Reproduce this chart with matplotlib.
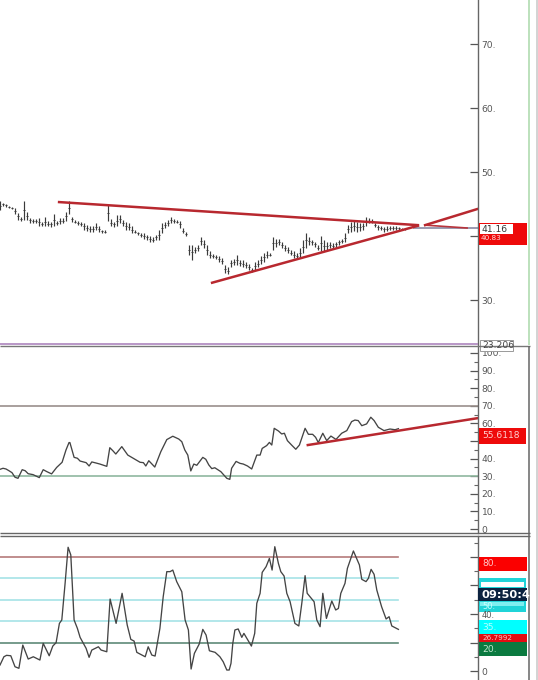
import matplotlib
matplotlib.use("Agg")
import matplotlib.pyplot as plt
from matplotlib.patches import Rectangle
from matplotlib.ticker import FixedLocator, FixedFormatter, MultipleLocator

W, H = 538, 680
bar_high = [45.4,45.2,45,44.7,44.5,44.3,43.6,42.9,45.5,43.8,42.8,42.6,42.6,42.8,42.2,42.9,42.4,42.2,43.5,42.4,
            42.8,42.8,43.8,45.4,43,42.5,42.4,42.2,42,41.7,41.5,41.5,42,41.5,41,40.9,44.8,42.6,42.2,43.3,
            43.3,42.5,42.2,42,41.5,40.9,40.7,40.4,40.4,40.2,40,39.9,40.2,40.9,42,42.2,42.5,43,42.6,42.5,
            42.4,41.2,40.7,38.6,38.6,38.3,38.6,39.9,39.4,38.6,37.6,37.2,37,36.8,36.5,35.5,35.1,36.3,36.4,37,
            36.3,36.3,36,35.7,35,36,36.3,36.9,37.3,37.7,37.3,39.9,39.6,39.6,39.1,38.6,38.3,37.8,37.6,37.3,
            38.1,39.4,40.5,39.9,39.4,39.1,38.6,40,39.4,39.1,39.1,38.9,39.1,39.4,39.6,40.4,41.7,42.2,42.4,42.2,
            42,42,42.9,42.8,42.6,42.1,41.7,41.6,41.4,41.5,41.6,41.6,41.5,41.4,41.2,41.1]
bar_low = [44.1,44.7,44.6,44.3,44.2,43.4,42.5,42.4,42.5,42.5,42.1,42.1,42,41.5,41.5,41.5,41.5,41.4,41.5,41.7,
           41.9,42,42.4,43.5,42.2,42,41.7,41.5,41,40.8,40.7,40.7,40.9,40.7,40.5,40.5,42.4,41.5,41.4,41.5,
           42,41.5,40.9,40.9,40.4,40.4,40.2,39.9,39.6,39.4,39.1,39,39.4,39.4,40.4,41.2,41.5,42,42,42,
           41.2,40.5,40,37,36.3,37.3,37.6,38.6,38.1,37,36.5,36.5,36.4,36,35.7,34.2,34,35.2,35.5,35.5,
           35.3,35.1,35,34.7,34.4,34.7,35.1,35.7,36,36.5,36.8,37.8,38.3,38.6,38.1,37.6,37.3,37,36.5,36.5,
           36.5,37.3,38.2,38.6,38.6,38.3,37.8,37.7,37.6,37.8,38.1,38.1,38.3,38.6,38.9,39.1,40.4,40.7,40.8,40.7,
           40.8,41,41.6,42,42,41.4,41,41,40.7,40.8,41,41,41,41,41,41]

rsi_bar = [0,1,2,3,4,5,6,7.4,8.4,9.4,11,12,13.1,14.4,15.6,17.2,18.9,20.7,22,23,23.3,24.7,25.8,26.7,28.7,29.7,30.6,32,33.3,35.6,
           36.6,37.6,38.6,40.6,42.6,44.6,46.7,47.8,48.6,49.6,51.6,53.6,55.6,57.6,59.6,60.6,61.6,62.6,63.6,64.6,65.6,67.6,68.6,69.6,70.6,71.6,73.6,75.6,76.6,
           77.2,78.7,80,81.1,82.5,83.9,85.6,86.7,87.4,88.9,89.8,90.6,91.4,92.8,93.9,94.8,95.8,97.2,98.6,99.8,101.7,102.8,104.2,105.2,106.1,107.6,108.9,110.3,112,113.9,115.6,117.2,118.3,119.4,120.6,122.2,123.6,124.7,126.1,128,130,131.7,132.8]
rsi_val = [33.9,34.5,34.1,33.1,32,29.4,28.8,33.7,33.1,31.4,30.9,30.1,29.2,33.7,32.6,31.3,35,37.9,44.9,49.1,49.1,40.7,40.2,38.6,37.7,35.8,38.1,37.5,36.9,35.6,
           46.2,44.5,42.6,46.8,42,40,37.9,37.7,35.8,38.8,35.2,43.9,50.8,52.7,51.1,49.6,44.9,42,33,36.9,36.2,40.7,39.6,36.4,34.3,34.8,32.6,28.8,28.2,
           34.5,38.4,37.3,36.9,35.8,34.1,42,42,45.8,47.4,49.2,47.7,57.2,55.7,54,54.4,50.2,47.7,45.3,47.7,57.2,53.8,53.8,52.1,49.1,54.4,50.2,52.8,50.9,54.4,55.9,61,61.9,61.6,58.7,59.7,63.5,61.6,57.8,55.9,56.8,56.4,57]

stoch_bar = [0,1.3,2.2,3.6,5,6.3,7.6,9.4,11.1,13.3,14.4,16.4,17.6,18.7,19.8,20.6,21.7,22.7,23.6,24.7,25.8,26.7,28.7,29.7,30.6,32.8,33.7,35.6,36.7,38.7,40.7,42.4,43.6,44.7,45.6,48.4,49.4,50.6,51.7,53.3,54.4,55.6,56.7,57.6,58.9,60.6,61.7,62.8,63.7,64.8,66.4,67.6,68.7,69.8,71.7,
             73.3,74.4,75.6,76.4,77,77.6,78.3,79.4,80.6,81.3,83.8,84.9,85.6,86.7,87.4,88.7,89.8,90.7,91.6,92.8,93.6,94.7,95.6,96.7,98.3,99.6,100.6,101.7,102.4,104.7,105.6,106.7,107.6,108.8,110.6,111.9,112.8,113.6,115,115.8,117.8,119.8,120.6,122,122.8,123.7,124.7,125.6,127.2,128.7,129.7,130.6,132.8]
stoch_val = [4.2,10,11,10.7,3,1.9,18.2,8.4,10,7.7,19.4,10.7,17.5,19.9,33.4,35.8,61.5,86.8,81.4,35.8,29.9,23.6,15.9,9.6,14.7,17,14.7,13.5,50.5,33.4,54.5,32.3,22.2,21,13.1,10,17,11.2,10.5,29.9,52.1,69.7,69.7,70.8,62.7,55.6,35.8,28.8,1.4,12.4,18.9,29.2,25.2,14.2,13.1,
             10,6.5,0.7,0.7,5.4,19.4,28.8,29.5,23.6,26.4,17.5,26.4,47.5,54.5,69.2,73.2,79,70.8,87.2,75.5,69.7,66.6,54.5,48.6,33.4,31.6,47.5,66.9,54.5,48.6,35.8,31.1,54.5,36.9,49.1,42.8,43.9,54.5,61.5,72,84.2,74.4,64.3,62.7,65,71.3,67.8,56.8,45.1,36.5,38.1,31.6,29.2]

price_ticks = [30, 40, 50, 60, 70]
price_labels = ["30.", "", "50.", "60.", "70."]
rsi_ticks = [0, 10, 20, 30, 40, 50, 60, 70, 80, 90, 100]
rsi_labels = ["0", "10.", "20.", "30.", "40.", "", "60.", "70.", "80.", "90.", "100."]
stoch_ticks = [0, 20, 40, 60, 80]
stoch_labels = ["0", "", "", "", ""]
stoch_levels = [80, 65, 50, 35, 20]
stoch_colors = ["#b57a7a", "#a5e3e6", "#a5e3e6", "#a5e3e6", "#5f8a78"]

fig = plt.figure(figsize=(W / 100, H / 100), dpi=100, facecolor="white")
plt.rcParams["font.family"] = "DejaVu Sans"


def panel(top, bottom, ylim, ticks, labels, minor):
    ax = fig.add_axes([0, 1 - bottom / H, 478 / W, (bottom - top) / H])
    ax.set_xlim(0, 478 / 3)
    ax.set_ylim(*ylim)
    ax.set_xticks([])
    ax.yaxis.tick_right()
    for s in ("left", "top", "bottom"):
        ax.spines[s].set_visible(False)
    ax.spines["right"].set_color("#666666")
    ax.spines["right"].set_linewidth(1.0)
    ax.yaxis.set_major_locator(FixedLocator(ticks))
    ax.yaxis.set_major_formatter(FixedFormatter(labels))
    ax.yaxis.set_minor_locator(MultipleLocator(minor))
    ax.tick_params(axis="y", which="major", direction="in", length=6, width=0.9,
                   color="#555555", labelsize=6.6, labelcolor="#555555", pad=2.5)
    ax.tick_params(axis="y", which="minor", direction="in", length=3, width=0.8, color="#666666")
    return ax


# Price panel
ax1 = panel(0, 345, (22.97, 76.875), price_ticks, price_labels, 100)
ax1.yaxis.set_minor_locator(FixedLocator([]))
for i, (hi, lo) in enumerate(zip(bar_high, bar_low)):
    mid = (hi + lo) / 2
    ax1.plot([i, i], [lo, hi], color="#3a3a3a", lw=0.85, solid_capstyle="butt")
    ax1.plot([i - 0.35, i + 0.35], [mid, mid], color="#3a3a3a", lw=0.7, solid_capstyle="butt")
ax1.plot([138, 159.3], [41.2, 41.2], color="#9a9ab0", lw=1.4)
ax1.plot([141.7, 155.7], [41.7, 41.25], color="#b8343c", lw=1.2)
ax1.plot([19.7, 139.3], [45.3, 41.7], color="#b8282f", lw=1.8)
ax1.plot([70.7, 139.3], [32.7, 41.6], color="#b8282f", lw=1.8)
ax1.plot([141.7, 159], [41.7, 44.2], color="#b8282f", lw=1.8)

# RSI panel
ax2 = panel(347, 533, (-2.27, 103.4), rsi_ticks, rsi_labels, 5)
ax2.axhline(70, color="#9a8f8c", lw=1.2)
ax2.axhline(30, color="#8fb89f", lw=1.2)
ax2.plot(rsi_bar, rsi_val, color="#444444", lw=0.95)
ax2.plot([102.6, 159.3], [47.7, 63], color="#b8282f", lw=1.8)

# Stochastic panel
ax3 = panel(536, 680, (-6.3, 94.7), stoch_ticks, stoch_labels, 10)
for lv, c in zip(stoch_levels, stoch_colors):
    ax3.plot([0, 132.7], [lv, lv], color=c, lw=1.2)
ax3.plot(stoch_bar, stoch_val, color="#444444", lw=0.95)

# Terminal chrome in pixel space
ov = fig.add_axes([0, 0, 1, 1], zorder=10)
ov.set_xlim(0, W)
ov.set_ylim(H, 0)
ov.axis("off")
ov.patch.set_alpha(0)


def hline(y, x0, x1, c, lw=1.0):
    ov.plot([x0, x1], [y, y], color=c, lw=lw, solid_capstyle="butt")


def vline(x, y0, y1, c, lw=1.0):
    ov.plot([x, x], [y0, y1], color=c, lw=lw, solid_capstyle="butt")


def box(x0, y0, x1, y1, c, ec="none", lw=0):
    ov.add_patch(Rectangle((x0, y0), x1 - x0, y1 - y0, facecolor=c, edgecolor=ec, linewidth=lw))


def label(x, y, s, c="white", size=6.6, **kw):
    ov.text(x, y, s, color=c, fontsize=size, ha="left", va="center", **kw)


hline(344, 0, 478, "#a57ab8", 1.1)
hline(346, 0, 530, "#777777", 1.0)
hline(533, 0, 530, "#666666", 1.0)
hline(536, 0, 530, "#666666", 1.0)
vline(528.5, 0, 345, "#a9d9a9", 1.1)
vline(528.5, 346, 680, "#666666", 1.1)
vline(536.5, 0, 680, "#cccccc", 1.2)

# Price tags
box(479, 223, 527, 245, "#ee0a0a")
box(480, 224, 513, 234, "white")
label(481, 229, "41.16", "#333333", 6.6)
label(481, 238.5, "40.83", "#ffdcdc", 5.2)
box(480, 340, 513, 351, "white", "#999999", 0.7)
label(482, 345.5, "23.206", "#444444", 6.6)

# RSI tag
box(479, 428, 526, 444, "#ee0a0a")
label(482, 436, "55.6118", "#ffd0d0", 6.6)

# Stochastic tags and the axis labels that show around them
box(479, 557, 527, 571, "#fb0000")
label(482, 564, "80.", "#ffc8c8", 6.6)
box(479, 578, 526, 612, "#20d4d8")
box(481, 582, 524, 587, "white")
box(480, 602, 524, 606, "#7feff0")
label(482, 606.5, "50.", "#c8ffff", 6)
box(478, 588, 527, 601, "#0c2340")
label(481, 594.8, "09:50:4", "white", 8.2, fontweight="bold")
label(482, 616, "40.", "#555555", 6)
box(479, 634, 527, 642, "#e40d12")
box(479, 620, 527, 634, "#00ffff")
label(482, 627, "35.", "#b8ffff", 6.6)
label(482, 638, "26.7992", "#ffc0c0", 5.2)
box(479, 642, 527, 656, "#0b7a40")
label(482, 649, "20.", "#c4e8d0", 6.6)

fig.savefig("out.png", dpi=100)
